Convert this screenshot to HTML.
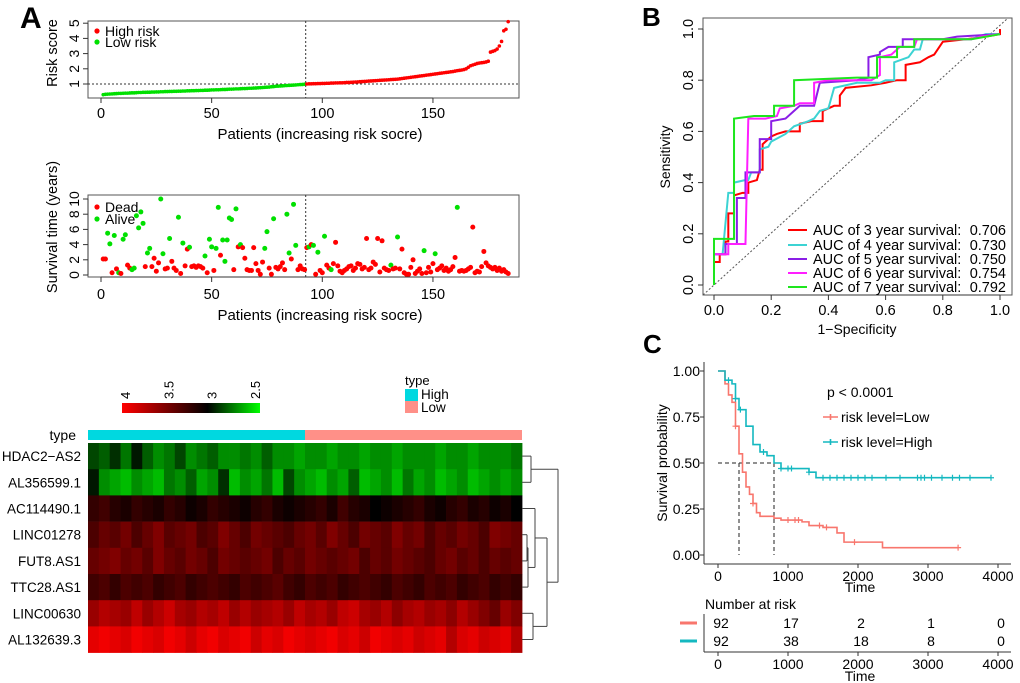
<!DOCTYPE html>
<html><head><meta charset="utf-8"><style>
html,body{margin:0;padding:0;background:#fff}
svg{display:block;font-family:"Liberation Sans",Arial,sans-serif}
</style></head><body>
<svg id="fig" width="1020" height="683" viewBox="0 0 1020 683" xmlns="http://www.w3.org/2000/svg">
<g id="gA"></g>
<g id="gB"></g>
<g id="gC"></g>
<g id="gH"></g>
</svg>
<script>
// ---------- DATA ----------
const riskScores=[.30,.32,.33,.34,.35,.36,.37,.38,.38,.39,.40,.40,.41,.42,.42,.43,.44,.44,.45,.45,.46,.46,.47,.47,.48,.48,.49,.49,.50,.50,.51,.51,.52,.52,.53,.53,.54,.54,.55,.55,.56,.56,.57,.57,.58,.58,.59,.59,.60,.61,.61,.62,.62,.63,.64,.64,.65,.66,.66,.67,.68,.68,.69,.70,.70,.71,.72,.72,.73,.74,.75,.76,.77,.78,.79,.80,.82,.83,.85,.86,.87,.88,.89,.90,.91,.92,.93,.94,.95,.96,.97,.99,
1.00,1.01,1.01,1.02,1.02,1.03,1.03,1.04,1.04,1.05,1.05,1.06,1.06,1.07,1.07,1.08,1.08,1.09,1.10,1.10,1.11,1.12,1.13,1.14,1.15,1.16,1.17,1.18,1.19,1.20,1.21,1.22,1.23,1.24,1.25,1.26,1.27,1.28,1.29,1.30,1.31,1.32,1.34,1.36,1.38,1.40,1.42,1.44,1.46,1.48,1.50,1.52,1.54,1.56,1.58,1.60,1.62,1.64,1.66,1.68,1.70,1.72,1.74,1.76,1.78,1.80,1.82,1.85,1.88,1.90,1.92,1.95,2.00,2.10,2.20,2.25,2.30,2.35,2.38,2.40,2.42,2.45,2.50,3.10,3.15,3.20,3.30,3.50,3.80,4.50,4.60,5.10];
const riskCut=92;
const survTimes=[2.1,2.1,5.5,4.1,0.3,5.2,0.8,0.3,0.2,4.7,5.3,1.3,0.9,0.7,0.9,7.8,6.2,8.3,6.8,1.1,
2.9,3.5,1.1,2.2,0.5,1.6,10,2.8,0.8,0.9,4.8,1.8,0.9,0.6,7.6,0.2,4.2,1.2,3.4,3.65,
1.1,1.2,1.0,1.2,1.1,0.9,2.5,0.3,4.7,3.7,0.6,3.5,8.9,2.6,4.6,1.8,4.6,7.5,7.3,0.7,
8.7,3.7,4.0,3.6,2.2,0.7,0.6,0.6,3.6,1.5,0.6,0.1,1.7,3.5,5.7,0.9,0.1,7.4,1.0,0.8,
1.1,1.6,0.7,8.0,2.9,2.1,9.3,3.9,0.7,1.2,0.8,0.7,3.6,3.7,4.0,3.9,0.1,3.0,0.6,0.3,
5.1,1.3,0.9,0.7,1.5,4.3,1.2,0.5,0.3,0.6,0.8,1.1,1.2,0.6,0.9,1.5,1.4,0.8,1.0,4.8,
0.7,0.9,1.7,1.4,4.8,0.4,4.5,0.9,0.7,0.6,1.3,0.8,0.9,5.0,0.8,3.4,0.3,0.1,0.1,1.0,
2.0,0.2,0.5,0.8,0.2,3.2,0.3,1.0,0.4,1.5,2.8,0.7,0.9,1.2,0.6,0.9,0.5,0.7,1.1,2.3,
8.9,0.5,0.6,0.5,0.6,0.8,1.0,6.3,0.3,0.5,0.4,1.1,3.1,1.6,1.2,1.0,0.8,1.0,0.6,0.9,0.5,0.7,0.4,0.2];
const survStatus=[1,1,0,0,1,0,1,0,1,0,0,1,1,0,0,0,0,0,0,1,
0,0,1,1,1,1,0,0,1,1,0,1,1,1,0,1,0,1,1,0,
1,1,1,1,1,1,0,1,0,0,1,0,0,1,0,0,0,0,0,1,
0,1,0,1,1,1,1,1,1,1,1,1,1,0,0,1,1,0,1,1,
1,1,1,0,0,1,0,0,1,1,1,1,1,0,1,0,1,0,1,1,
0,1,1,0,1,1,1,1,1,1,1,1,1,1,1,1,1,1,1,1,
1,1,1,1,1,1,1,1,1,1,0,1,1,0,1,1,1,1,1,1,
1,1,1,1,1,0,1,1,1,1,0,1,1,1,1,1,1,1,1,1,
0,1,1,1,1,1,1,1,1,1,1,1,1,1,1,1,1,1,1,1,1,1,1,1];
const xTicksA=[0,50,100,150];
const riskTicks=[1,2,3,4,5];
const survTicks=[0,2,4,6,8,10];

const rocNames=["AUC of 3 year survival:","AUC of 4 year survival:","AUC of 5 year survival:","AUC of 6 year survival:","AUC of 7 year survival:"];
const rocAUC=["0.706","0.730","0.750","0.754","0.792"];
const rocColors=["#ff0000","#3cd3d3","#8a1ee6","#ff1eff","#1ee61e"];
const roc3Fpr=[0,0,.02,.02,.04,.04,.05,.05,.07,.07,.10,.12,.12,.15,.16,.17,.17,.20,.22,.25,.30,.30,.34,.38,.38,.42,.44,.44,.46,.55,.60,.64,.67,.67,.72,.75,.77,.80,.88,.95,1,1];
const roc3Tpr=[0,.09,.09,.12,.12,.17,.17,.28,.28,.35,.36,.36,.40,.41,.45,.45,.55,.58,.59,.60,.60,.63,.64,.64,.68,.70,.70,.74,.77,.78,.79,.80,.80,.86,.87,.89,.90,.95,.96,.97,.98,1];
const roc4Fpr=[0,0,.03,.05,.07,.07,.11,.12,.13,.16,.16,.19,.20,.25,.28,.33,.35,.37,.40,.42,.50,.58,.60,.63,.63,.68,.70,.72,.73,.90,.95,1];
const roc4Tpr=[0,.12,.12,.36,.36,.40,.41,.41,.44,.44,.53,.54,.56,.59,.62,.64,.65,.68,.69,.77,.79,.79,.80,.80,.87,.89,.92,.92,.96,.96,.98,.98];
const roc5Fpr=[0,0,.04,.04,.08,.08,.11,.11,.16,.16,.20,.20,.25,.28,.30,.35,.37,.50,.54,.54,.58,.58,.61,.66,.66,.70,.80,.85,1];
const roc5Tpr=[0,.12,.12,.16,.16,.34,.34,.44,.44,.57,.57,.64,.65,.68,.70,.70,.79,.80,.81,.89,.90,.91,.93,.93,.96,.96,.96,.97,.98];
const roc6Fpr=[0,0,.05,.05,.11,.12,.18,.22,.23,.28,.30,.35,.35,.40,.55,.58,.58,.62,.65,.70,.71,.90,.93,1];
const roc6Tpr=[0,.12,.12,.16,.16,.65,.65,.66,.69,.70,.71,.71,.79,.80,.80,.82,.89,.90,.93,.93,.96,.96,.97,.98];
const roc7Fpr=[0,0,.07,.07,.14,.21,.21,.28,.28,.50,.57,.57,.64,.64,.70,.70,.90,1];
const roc7Tpr=[0,.18,.18,.65,.66,.66,.70,.70,.80,.81,.81,.89,.89,.93,.93,.96,.96,.98];
const rocTicks=[0,0.2,0.4,0.6,0.8,1.0];

const kmLowTime=[0,100,150,200,250,300,350,400,450,500,550,600,800,900,1200,1300,1500,1700,1800,2350,3430];
const kmLowSurv=[1,.93,.87,.83,.70,.55,.45,.37,.33,.28,.23,.21,.20,.19,.18,.16,.15,.12,.07,.04,.04];
const kmLowCens=[250,500,1000,1100,1150,1450,1550,1950,3430];
const kmHighTime=[0,100,200,250,300,400,500,600,700,800,900,1300,1400,3900];
const kmHighSurv=[1,.95,.93,.85,.79,.70,.60,.56,.54,.50,.47,.45,.42,.42];
const kmHighCens=[150,250,320,650,900,1000,1050,1300,1500,1600,1700,1800,1900,2000,2100,2200,2400,2600,2850,2900,2950,3050,3200,3350,3450,3600,3900];
const kmXTicks=[0,1000,2000,3000,4000];
const kmYTicks=[0,0.25,0.5,0.75,1.0];
const kmYLabels=["0.00","0.25","0.50","0.75","1.00"];
const atRiskLow=[92,17,2,1,0];
const atRiskHigh=[92,38,18,8,0];

const heatGenes=["HDAC2\u2212AS2","AL356599.1","AC114490.1","LINC01278","FUT8.AS1","TTC28.AS1","LINC00630","AL132639.3"];
const heatRow1=[2.85,2.8,2.9,2.75,2.95,2.8,2.7,2.75,2.85,2.7,2.75,2.8,2.7,2.7,2.75,2.7,2.8,2.7,2.7,2.65,2.7,2.7,2.65,2.7,2.7,2.65,2.7,2.7,2.65,2.7,2.7,2.7,2.65,2.7,2.7,2.65,2.7,2.7,2.7,2.75];
const heatRow2=[2.95,2.7,2.65,2.6,2.7,2.65,2.6,2.75,2.7,2.8,2.65,2.7,2.9,2.6,2.7,2.65,2.75,2.6,2.85,2.7,2.65,2.6,2.7,2.65,2.8,2.6,2.65,2.7,2.6,2.75,2.65,2.7,2.6,2.65,2.7,2.6,2.65,2.7,2.65,2.7];
const heatRow3=[3.2,3.25,3.15,3.1,3.2,3.15,3.1,3.2,3.15,3.05,3.1,3.2,3.15,3.1,3.05,3.15,3.2,3.1,3.05,3.1,3.15,3.2,3.1,3.25,3.15,3.1,3.0,3.05,3.1,3.15,3.2,3.1,3.05,3.15,3.2,3.1,3.15,3.05,3.1,3.0];
const heatRow4=[3.3,3.4,3.35,3.45,3.3,3.4,3.5,3.35,3.4,3.45,3.3,3.35,3.5,3.4,3.3,3.45,3.4,3.35,3.3,3.4,3.45,3.35,3.5,3.4,3.3,3.45,3.4,3.35,3.5,3.4,3.45,3.3,3.4,3.35,3.45,3.4,3.3,3.5,3.45,3.4];
const heatRow5=[3.4,3.45,3.5,3.4,3.45,3.35,3.5,3.4,3.35,3.45,3.4,3.3,3.45,3.4,3.35,3.4,3.45,3.3,3.4,3.35,3.45,3.4,3.35,3.4,3.45,3.3,3.4,3.35,3.45,3.4,3.35,3.3,3.4,3.45,3.35,3.4,3.3,3.4,3.35,3.4];
const heatRow6=[3.25,3.3,3.2,3.3,3.25,3.3,3.2,3.25,3.3,3.2,3.25,3.3,3.25,3.2,3.3,3.25,3.3,3.35,3.25,3.2,3.3,3.25,3.3,3.2,3.25,3.3,3.25,3.2,3.3,3.25,3.2,3.3,3.25,3.3,3.2,3.25,3.3,3.2,3.25,3.2];
const heatRow7=[3.6,3.7,3.65,3.6,3.75,3.6,3.7,3.8,3.65,3.6,3.7,3.65,3.75,3.6,3.7,3.6,3.65,3.7,3.6,3.75,3.65,3.7,3.6,3.75,3.8,3.65,3.6,3.7,3.55,3.65,3.7,3.6,3.65,3.55,3.7,3.6,3.5,3.4,3.6,3.5];
const heatRow8=[3.9,3.95,3.9,3.85,3.95,3.9,3.85,3.95,3.9,3.8,3.9,3.95,3.85,3.9,3.95,3.8,3.9,3.85,3.95,3.9,3.85,3.9,3.95,3.85,3.9,3.8,3.95,3.9,3.85,3.9,3.8,3.85,3.9,3.7,3.85,3.9,3.8,3.85,3.9,3.7];
const heatRows=[heatRow1,heatRow2,heatRow3,heatRow4,heatRow5,heatRow6,heatRow7,heatRow8];
const colorbarTicks=[4,3.5,3,2.5];

// ---------- HELPERS ----------
const NS="http://www.w3.org/2000/svg";
function mk(parent,tag,attrs,text){const e=document.createElementNS(NS,tag);for(const k in attrs)e.setAttribute(k,attrs[k]);if(text!==undefined)e.textContent=text;parent.appendChild(e);return e;}
const gA=document.getElementById('gA'),gB=document.getElementById('gB'),gC=document.getElementById('gC'),gH=document.getElementById('gH');
let el;

// ---------- PANEL A ----------
el=mk(gA,'text',{x:20,y:28,'font-size':30,'font-weight':'bold'},'A');


const axPx=p=>101+p*2.213;
const rY=v=>84-(v-1)*15.2;
const sY=v=>275-v*7.6;
function boxA(y1,y2,name){el=mk(gA,'rect',{x:88,y:y1,width:431,height:y2-y1,fill:'none',stroke:'#555','stroke-width':1});

}
boxA(21,98,'risk-score-plot-frame');
boxA(195,277,'survival-plot-frame');
function xAxisA(yb,ylab,ttl,name){
 xTicksA.forEach(t=>{mk(gA,'line',{x1:axPx(t),x2:axPx(t),y1:yb,y2:yb+5,stroke:'#333'});
  el=mk(gA,'text',{x:axPx(t),y:ylab,'font-size':14.5,'text-anchor':'middle'},t);
  
  });
 mk(gA,'line',{x1:axPx(0),x2:axPx(150),y1:yb,y2:yb,stroke:'#333'});
 el=mk(gA,'text',{x:320,y:ylab+21,'font-size':15,'text-anchor':'middle'},ttl);
 
 }
xAxisA(98,118,'Patients (increasing risk socre)','risk-x-axis-title');
xAxisA(277,299,'Patients (increasing risk socre)','survival-x-axis-title');
riskTicks.forEach(t=>{mk(gA,'line',{x1:83,x2:88,y1:rY(t),y2:rY(t),stroke:'#333'});
 el=mk(gA,'text',{x:79,y:rY(t),'font-size':14,'text-anchor':'middle',transform:`rotate(-90 79 ${rY(t)})`},t);
 
 });
mk(gA,'line',{x1:88,x2:88,y1:rY(1),y2:rY(5),stroke:'#333'});
el=mk(gA,'text',{x:57,y:53,'font-size':14.5,'text-anchor':'middle',transform:'rotate(-90 57 53)'},'Risk score');


survTicks.forEach(t=>{mk(gA,'line',{x1:83,x2:88,y1:sY(t),y2:sY(t),stroke:'#333'});
 el=mk(gA,'text',{x:79,y:sY(t),'font-size':14,'text-anchor':'middle',transform:`rotate(-90 79 ${sY(t)})`},t);
 
 });
mk(gA,'line',{x1:88,x2:88,y1:sY(0),y2:sY(10),stroke:'#333'});
el=mk(gA,'text',{x:57,y:227,'font-size':14.5,'text-anchor':'middle',transform:'rotate(-90 57 227)'},'Survival time (years)');


el=mk(gA,'line',{x1:88,x2:519,y1:rY(1),y2:rY(1),stroke:'#333','stroke-dasharray':'2,2'});


[[21,98],[195,277]].forEach(r=>{el=mk(gA,'line',{x1:axPx(riskCut+0.5),x2:axPx(riskCut+0.5),y1:r[0],y2:r[1],stroke:'#333','stroke-dasharray':'2,2'});
 
 });
riskScores.forEach((v,i)=>{el=mk(gA,'circle',{cx:axPx(i+1),cy:rY(v),r:1.8,fill:i<riskCut?'#00e000':'#ff0000'});
 
 });
survTimes.forEach((v,i)=>{el=mk(gA,'circle',{cx:axPx(i+1),cy:sY(v),r:2.5,fill:survStatus[i]?'#ff0000':'#00e000'});
 
 });
function legA(y,c,t,n){mk(gA,'circle',{cx:97,cy:y,r:2.6,fill:c});
 el=mk(gA,'text',{x:105,y:y+5,'font-size':14},t);
 
 }
legA(31,'#ff0000','High risk','legend-high-risk');legA(42,'#00e000','Low risk','legend-low-risk');
legA(207,'#ff0000','Dead','legend-dead');legA(219,'#00e000','Alive','legend-alive');

// ---------- HEATMAP ----------
function heatColor(v){if(v>=3){const r=Math.round(Math.min(1,(v-3))*255);return `rgb(${r},0,0)`;}const g=Math.round(Math.min(1,(3-v)*2)*235);return `rgb(0,${g},0)`;}
const hx0=88,hx1=522,hy0=443,rowH=26.2;
const ncol=heatRow1.length,cw=(hx1-hx0)/ncol;
heatRows.forEach((row,r)=>{row.forEach((v,c)=>{el=mk(gH,'rect',{x:hx0+c*cw,y:hy0+r*rowH,width:cw+0.4,height:rowH+0.3,fill:heatColor(v)});
 
 });
 el=mk(gH,'text',{x:81,y:hy0+r*rowH+rowH/2+5,'font-size':13.5,'text-anchor':'end'},heatGenes[r]);
 
 });
el=mk(gH,'rect',{x:hx0,y:430,width:(hx1-hx0)/2,height:10,fill:'#00d8e0'});


el=mk(gH,'rect',{x:(hx0+hx1)/2,y:430,width:(hx1-hx0)/2,height:10,fill:'#ff9088'});


el=mk(gH,'text',{x:76,y:440,'font-size':14,'text-anchor':'end'},'type');


const defs=mk(gH,'defs',{});const lg=mk(defs,'linearGradient',{id:'cb',x1:0,x2:1,y1:0,y2:0});
mk(lg,'stop',{offset:'0',"stop-color":'#ff0000'});mk(lg,'stop',{offset:'0.62',"stop-color":'#000'});mk(lg,'stop',{offset:'1',"stop-color":'#00ff00'});
el=mk(gH,'rect',{x:122,y:403,width:138,height:10,fill:'url(#cb)'});


const cbX=v=>125+(4-v)/1.5*130;
colorbarTicks.forEach(t=>{el=mk(gH,'text',{x:cbX(t)+5,y:399,'font-size':13,transform:`rotate(-90 ${cbX(t)+5} 399)`},t);
 
 });
el=mk(gH,'text',{x:405,y:385,'font-size':13},'type');


el=mk(gH,'rect',{x:405,y:389,width:13,height:12,fill:'#00d8e0'});


el=mk(gH,'rect',{x:405,y:401,width:13,height:12,fill:'#ff9088'});


el=mk(gH,'text',{x:421,y:399,'font-size':13.5},'High');


el=mk(gH,'text',{x:421,y:412,'font-size':13.5},'Low');


const rc=i=>hy0+i*rowH+rowH/2;
const dl=(x1,y1,x2,y2)=>{el=mk(gH,'line',{x1,y1,x2,y2,stroke:'#444','stroke-width':1});};
function U(ya,xa,yb,xb,xm){dl(xa,ya,xm,ya);dl(xb,yb,xm,yb);dl(xm,ya,xm,yb);}
U(rc(0),522,rc(1),522,531);
U(rc(3),522,rc(4),522,527);
const m45=(rc(3)+rc(4))/2;U(m45,527,rc(5),522,528);
const m456=(m45+rc(5))/2;U(rc(2),522,m456,528,535);
U(rc(6),522,rc(7),522,533);
const m3=(rc(2)+m456)/2,m78=(rc(6)+rc(7))/2;U(m3,535,m78,533,547);
const mA=(m3+m78)/2;U((rc(0)+rc(1))/2,531,mA,547,558);

// ---------- PANEL B ROC ----------
el=mk(gB,'text',{x:642,y:26,'font-size':26,'font-weight':'bold'},'B');


const bx=v=>714+v*286,by=v=>285-v*256;
el=mk(gB,'rect',{x:703,y:18,width:309,height:277,fill:'none',stroke:'#555'});


el=mk(gB,'line',{x1:703,y1:295,x2:1008,y2:18,stroke:'#555','stroke-dasharray':'2,2'});


mk(gB,'line',{x1:bx(0),x2:bx(1),y1:295,y2:295,stroke:'#333'});
mk(gB,'line',{x1:703,x2:703,y1:by(0),y2:by(1),stroke:'#333'});
rocTicks.forEach(t=>{mk(gB,'line',{x1:bx(t),x2:bx(t),y1:295,y2:300,stroke:'#333'});
 el=mk(gB,'text',{x:bx(t),y:315,'font-size':14.5,'text-anchor':'middle'},t.toFixed(1));
 
 
 mk(gB,'line',{x1:698,x2:703,y1:by(t),y2:by(t),stroke:'#333'});
 el=mk(gB,'text',{x:693,y:by(t),'font-size':14.5,'text-anchor':'middle',transform:`rotate(-90 693 ${by(t)})`},t.toFixed(1));
 
 });
el=mk(gB,'text',{x:857,y:334,'font-size':14,'text-anchor':'middle'},'1\u2212Specificity');


el=mk(gB,'text',{x:670,y:157,'font-size':14,'text-anchor':'middle',transform:'rotate(-90 670 157)'},'Sensitivity');


const rocF=[roc3Fpr,roc4Fpr,roc5Fpr,roc6Fpr,roc7Fpr],rocT=[roc3Tpr,roc4Tpr,roc5Tpr,roc6Tpr,roc7Tpr];
rocF.forEach((f,k)=>{const pts=f.map((x,i)=>bx(x)+','+by(rocT[k][i])).join(' ');
 el=mk(gB,'polyline',{points:pts,fill:'none',stroke:rocColors[k],'stroke-width':2});
 
 });
const legY=[230,245,259,273,287];
rocNames.forEach((n,k)=>{mk(gB,'line',{x1:788,x2:807,y1:legY[k],y2:legY[k],stroke:rocColors[k],'stroke-width':2});
 el=mk(gB,'text',{x:813,y:legY[k]+5,'font-size':14.5},n);
 
 
 el=mk(gB,'text',{x:1006,y:legY[k]+5,'font-size':14.5,'text-anchor':'end'},rocAUC[k]);
 
 });

// ---------- PANEL C KM ----------
el=mk(gC,'text',{x:643,y:353,'font-size':26,'font-weight':'bold'},'C');


const kx=t=>718+t*0.07,ky=s=>555-s*184;
mk(gC,'line',{x1:704,x2:1011,y1:564,y2:564,stroke:'#333'});
mk(gC,'line',{x1:704,x2:704,y1:362,y2:564,stroke:'#333'});
kmXTicks.forEach(t=>{mk(gC,'line',{x1:kx(t),x2:kx(t),y1:564,y2:568,stroke:'#333'});
 el=mk(gC,'text',{x:kx(t),y:581,'font-size':14,'text-anchor':'middle'},t);
 
 
 mk(gC,'line',{x1:kx(t),x2:kx(t),y1:652,y2:656,stroke:'#333'});
 el=mk(gC,'text',{x:kx(t),y:669,'font-size':14,'text-anchor':'middle'},t);
 
 });
kmYTicks.forEach((t,i)=>{mk(gC,'line',{x1:700,x2:704,y1:ky(t),y2:ky(t),stroke:'#333'});
 el=mk(gC,'text',{x:700,y:ky(t)+5,'font-size':14,'text-anchor':'end'},kmYLabels[i]);
 
 });
el=mk(gC,'text',{x:860,y:592,'font-size':14,'text-anchor':'middle'},'Time');


el=mk(gC,'text',{x:667,y:463,'font-size':14,'text-anchor':'middle',transform:'rotate(-90 667 463)'},'Survival probability');


const dash={stroke:'#222','stroke-dasharray':'4,3','stroke-width':1,fill:'none'};
el=mk(gC,'polyline',Object.assign({points:`${kx(0)},${ky(.5)} ${kx(800)},${ky(.5)}`},dash));


[300,800].forEach(t=>{el=mk(gC,'polyline',Object.assign({points:`${kx(t)},${ky(.5)} ${kx(t)},${ky(0)}`},dash));
 
 });
function stepPts(T,S){let p=[];for(let i=0;i<T.length;i++){if(i>0)p.push(kx(T[i])+','+ky(S[i-1]));p.push(kx(T[i])+','+ky(S[i]));}return p.join(' ');}
function survAt(T,S,t){let s=S[0];for(let i=0;i<T.length;i++)if(T[i]<=t)s=S[i];return s;}
function drawKM(T,S,C,col,name){el=mk(gC,'polyline',{points:stepPts(T,S),fill:'none',stroke:col,'stroke-width':1.6});
 
 
 C.forEach(t=>{const y=ky(survAt(T,S,t));el=mk(gC,'path',{d:`M${kx(t)-3},${y}h6M${kx(t)},${y-3}v6`,stroke:col,'stroke-width':1.2});
  
  });}
drawKM(kmLowTime,kmLowSurv,kmLowCens,'#f8766d','km-curve-low');
drawKM(kmHighTime,kmHighSurv,kmHighCens,'#14b8c0','km-curve-high');
el=mk(gC,'text',{x:827,y:397,'font-size':14},'p < 0.0001');


[['#f8766d','risk level=Low',422,'legend-risk-low'],['#14b8c0','risk level=High',447,'legend-risk-high']].forEach(a=>{
 mk(gC,'path',{d:`M823,${a[2]-5}h15M830.5,${a[2]-8}v6`,stroke:a[0],'stroke-width':1.6});
 el=mk(gC,'text',{x:841,y:a[2],'font-size':14},a[1]);
 
 });
el=mk(gC,'text',{x:705,y:609,'font-size':14},'Number at risk');


mk(gC,'line',{x1:704,x2:704,y1:614,y2:652,stroke:'#333'});
mk(gC,'line',{x1:704,x2:1011,y1:652,y2:652,stroke:'#333'});
[[atRiskLow,623,'#f8766d'],[atRiskHigh,641,'#14b8c0']].forEach(r=>{
 el=mk(gC,'line',{x1:680,x2:697,y1:r[1],y2:r[1],stroke:r[2],'stroke-width':3});
 
 
 r[0].forEach((n,i)=>{el=mk(gC,'text',{x:kx(kmXTicks[i])+3,y:r[1]+5,'font-size':14,'text-anchor':'middle'},n);
  
  });});
el=mk(gC,'text',{x:860,y:681,'font-size':14,'text-anchor':'middle'},'Time');


</script>
</body></html>
